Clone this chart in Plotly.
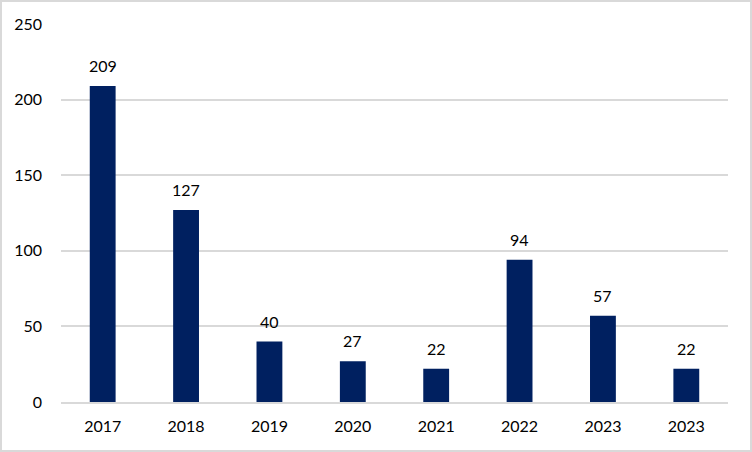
import plotly.graph_objects as go

years = ["2017", "2018", "2019", "2020", "2021", "2022", "2023", "2023"]
values = [209, 127, 40, 27, 22, 94, 57, 22]
positions = list(range(len(years)))
y_ticks = [0, 50, 100, 150, 200, 250]

fig = go.Figure(go.Bar(
    x=positions, y=values,
    marker=dict(color="#002060", line=dict(width=0)),
    hoverinfo="skip",
))
for p, v in zip(positions, values):
    fig.add_annotation(x=p, y=v, text=str(v), showarrow=False,
                       yanchor="bottom", yshift=9,
                       font=dict(family="Lato", size=16, color="#000000"))
fig.update_layout(
    width=752, height=452,
    margin=dict(l=61, r=24, t=24, b=50),
    paper_bgcolor="white", plot_bgcolor="white",
    bargap=0.69, showlegend=False,
    font=dict(family="Lato", size=16, color="#000000"),
    shapes=[dict(type="rect", xref="paper", yref="paper", x0=-60/667, x1=1+23/667,
                 y0=-49/378, y1=1+23/378, line=dict(color="#d9d9d9", width=2))],
)
fig.update_xaxes(tickmode="array", tickvals=positions, ticktext=years,
                 range=[-0.5, 7.5], showgrid=False, showline=True,
                 linecolor="#d9d9d9", linewidth=1.5, ticks="", zeroline=False,
                 ticklabelstandoff=9)
fig.update_yaxes(range=[0, 250], tickvals=y_ticks, showgrid=True,
                 gridcolor="#d9d9d9", gridwidth=1.5, zeroline=False, ticks="",
                 showline=False, ticklabelstandoff=18)
fig.write_html("out.html", config={"displayModeBar": False},
               post_script="document.body.style.margin='0';document.body.style.padding='0';")
